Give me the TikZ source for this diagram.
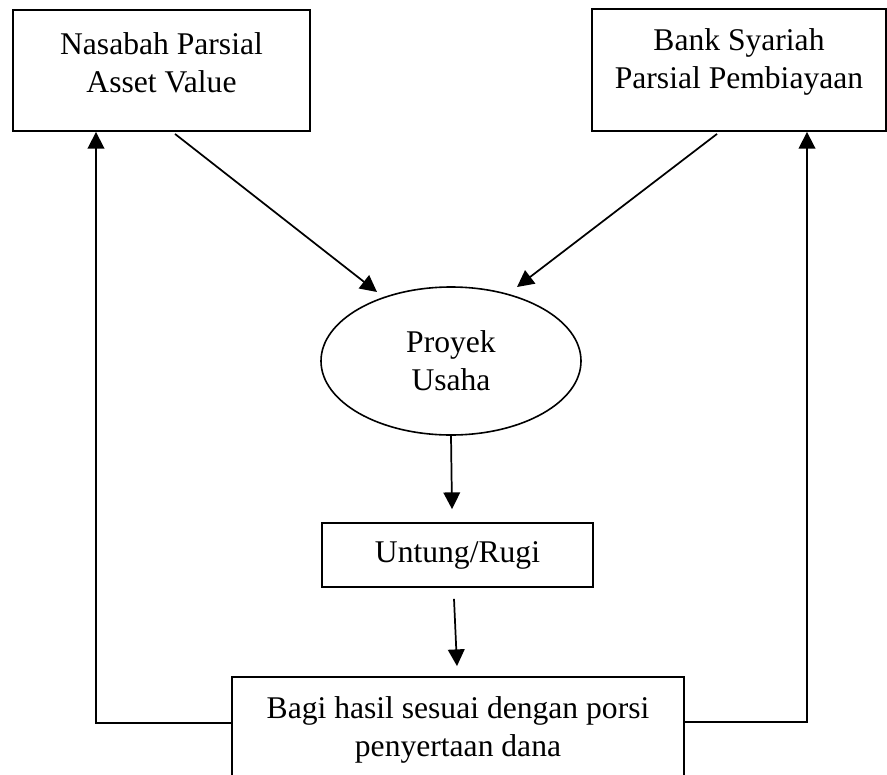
\documentclass[tikz,border=0pt]{standalone}
\usepackage{fontspec}
\setmainfont{Liberation Serif}
\usetikzlibrary{shapes.geometric,arrows.meta,calc}
\begin{document}
\begin{tikzpicture}[x=0.75pt,y=-0.75pt,
  every node/.style={font=\fontsize{23.7}{28.5}\selectfont},
  boxshape/.style={draw,line width=1.4pt,rectangle,inner sep=0pt},
  txt/.style={align=center,inner sep=0pt},
  arr/.style={line width=1.3pt,-{Triangle[width=12.5pt,length=12.5pt]}},
  ln/.style={line width=1.4pt}]
\useasboundingbox (0,0) rectangle (887,774);
\clip (0,0) rectangle (887,774);
% boxes
\node[boxshape,minimum width=222.75pt,minimum height=90.75pt] (nas) at (161.5,70.5) {};
\node[txt] (nasT) at (161.5,63) {Nasabah Parsial\\Asset Value};
\node[boxshape,minimum width=220.5pt,minimum height=91.5pt] (bank) at (739,70) {};
\node[txt] (bankT) at (739,62) {Bank Syariah\\Parsial Pembiayaan};
\node[draw,line width=1.2pt,ellipse,inner sep=0pt,minimum width=195pt,minimum height=111pt,align=center] (ell) at (451,361) {Proyek\\Usaha};
\node[boxshape,minimum width=203.25pt,minimum height=48pt] (unt) at (457.5,555) {Untung/Rugi};
\node[boxshape,minimum width=339pt,minimum height=114pt] (bagi) at (458,753) {};
\node[txt] (bagiT) at (458,730) {Bagi hasil sesuai dengan porsi\\penyertaan dana};
% connectors
\coordinate (tipL) at (377,292);
\coordinate (tipR) at (517,287);
\draw[arr] ($(nas.south)+(13.5,2)$) -- (tipL);
\draw[arr] ($(bank.south)+(-22,2)$) -- (tipR);
\draw[arr] (ell.south) -- ($(unt.north)+(-5.5,-13)$);
\draw[arr] ($(unt.south)+(-3.5,11)$) -- ($(bagi.north)+(-1,-10)$);
\draw[arr] ($(bagi.north west)+(0,47)$) -| ($(nas.south)+(-65.5,0)$);
\draw[arr] ($(bagi.north east)+(0,46)$) -| ($(bank.south)+(68,0)$);
\end{tikzpicture}
\end{document}
